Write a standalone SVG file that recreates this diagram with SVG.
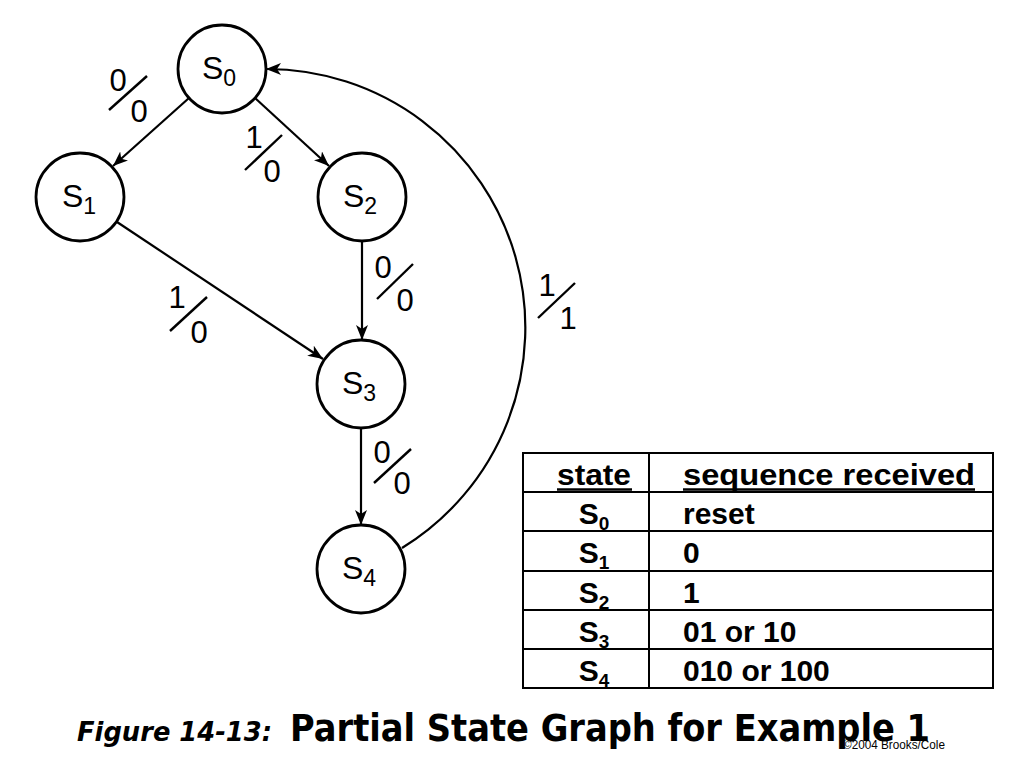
<svg xmlns="http://www.w3.org/2000/svg" width="1024" height="768" viewBox="0 0 1024 768">
<defs>
<marker id="arr" markerUnits="userSpaceOnUse" markerWidth="16" markerHeight="12" refX="15" refY="6" orient="auto">
<path d="M0,0 L15,6 L0,12 L4,6 z" fill="#000"/>
</marker>
<style>
.node circle{fill:#fff;stroke:#000;stroke-width:2.8}
.nl{font-family:"Liberation Sans",Arial,sans-serif;font-size:32px;fill:#000}
.lbl{font-family:"Liberation Sans",Arial,sans-serif;font-size:31px;fill:#000;text-anchor:middle}
.edge{fill:none;stroke:#000;stroke-width:2.2}
.slash{stroke:#000;stroke-width:2.4}
.tb{font-family:"Liberation Sans",Arial,sans-serif;font-weight:bold;font-size:30px;fill:#000}
.grid{stroke:#000;stroke-width:2;fill:none}
</style>
</defs>
<rect width="1024" height="768" fill="#fff"/>
<g id="connectors">
<line class="edge" x1="189" y1="98" x2="113" y2="166" marker-end="url(#arr)"/>
<line class="edge" x1="255" y1="98" x2="329" y2="166" marker-end="url(#arr)"/>
<line class="edge" x1="117" y1="222" x2="323" y2="359" marker-end="url(#arr)"/>
<line class="edge" x1="362" y1="241" x2="362" y2="340" marker-end="url(#arr)"/>
<line class="edge" x1="361" y1="428" x2="361" y2="525" marker-end="url(#arr)"/>
<path class="edge" d="M 402 548 A 258.6 258.6 0 0 0 266 69" marker-end="url(#arr)"/>
<g id="label-s0-s1"><text class="lbl" x="118" y="91">0</text><line class="slash" x1="109" y1="110" x2="147" y2="76"/><text class="lbl" x="139" y="122">0</text></g>
<g id="label-s0-s2"><text class="lbl" x="254" y="148">1</text><line class="slash" x1="245" y1="170" x2="282" y2="135"/><text class="lbl" x="272" y="182">0</text></g>
<g id="label-s1-s3"><text class="lbl" x="177" y="308">1</text><line class="slash" x1="170" y1="331" x2="207" y2="297"/><text class="lbl" x="199" y="343">0</text></g>
<g id="label-s2-s3"><text class="lbl" x="383" y="278">0</text><line class="slash" x1="377" y1="299" x2="413" y2="264"/><text class="lbl" x="405" y="311">0</text></g>
<g id="label-s3-s4"><text class="lbl" x="382" y="463">0</text><line class="slash" x1="374" y1="483" x2="411" y2="449"/><text class="lbl" x="402" y="494">0</text></g>
<g id="label-s4-s0"><text class="lbl" x="547" y="296">1</text><line class="slash" x1="538" y1="318" x2="575" y2="283"/><text class="lbl" x="568" y="329">1</text></g>
</g>
<g id="S0" class="node"><circle cx="222" cy="69" r="44"/><text class="nl" x="202" y="79">S<tspan font-size="23" dy="7">0</tspan></text></g>
<g id="S1" class="node"><circle cx="80" cy="197" r="44"/><text class="nl" x="62" y="207">S<tspan font-size="23" dy="7">1</tspan></text></g>
<g id="S2" class="node"><circle cx="362" cy="197" r="44"/><text class="nl" x="343" y="207">S<tspan font-size="23" dy="7">2</tspan></text></g>
<g id="S3" class="node"><circle cx="361" cy="384" r="44"/><text class="nl" x="342" y="394">S<tspan font-size="23" dy="7">3</tspan></text></g>
<g id="S4" class="node"><circle cx="361" cy="569" r="44"/><text class="nl" x="342" y="579">S<tspan font-size="23" dy="7">4</tspan></text></g>
<g id="table">
<rect class="grid" x="523" y="453" width="470" height="235"/>
<line class="grid" x1="649" y1="453" x2="649" y2="688"/>
<line class="grid" x1="523" y1="492" x2="993" y2="492"/>
<line class="grid" x1="523" y1="531" x2="993" y2="531"/>
<line class="grid" x1="523" y1="571" x2="993" y2="571"/>
<line class="grid" x1="523" y1="610" x2="993" y2="610"/>
<line class="grid" x1="523" y1="649" x2="993" y2="649"/>
<text class="tb" x="557" y="485" textLength="74" lengthAdjust="spacingAndGlyphs">state</text>
<line x1="557" y1="489.5" x2="632" y2="489.5" stroke="#000" stroke-width="2.5"/>
<text class="tb" x="683" y="485" textLength="292" lengthAdjust="spacingAndGlyphs">sequence received</text>
<line x1="683" y1="489.5" x2="975" y2="489.5" stroke="#000" stroke-width="2.5"/>
<text class="tb" x="594" y="524" text-anchor="middle">S<tspan font-size="19" dy="6">0</tspan></text>
<text class="tb" x="594" y="563" text-anchor="middle">S<tspan font-size="19" dy="6">1</tspan></text>
<text class="tb" x="594" y="603" text-anchor="middle">S<tspan font-size="19" dy="6">2</tspan></text>
<text class="tb" x="594" y="642" text-anchor="middle">S<tspan font-size="19" dy="6">3</tspan></text>
<text class="tb" x="594" y="681" text-anchor="middle">S<tspan font-size="19" dy="6">4</tspan></text>
<text class="tb" x="683" y="524">reset</text>
<text class="tb" x="683" y="563">0</text>
<text class="tb" x="683" y="603">1</text>
<text class="tb" x="683" y="642">01 or 10</text>
<text class="tb" x="683" y="681">010 or 100</text>
</g>
<g id="caption">
<text x="77" y="741" font-family="DejaVu Sans,Verdana,sans-serif" font-weight="bold" font-style="italic" font-size="26" textLength="195" lengthAdjust="spacingAndGlyphs">Figure 14-13:</text>
<text x="290" y="741" font-family="DejaVu Sans,Verdana,sans-serif" font-weight="bold" font-size="37" textLength="640" lengthAdjust="spacingAndGlyphs">Partial State Graph for Example 1</text>
<text x="843" y="749" font-family="Liberation Sans,Arial,sans-serif" font-size="13" textLength="102" lengthAdjust="spacingAndGlyphs">©2004 Brooks/Cole</text>
</g>
</svg>
